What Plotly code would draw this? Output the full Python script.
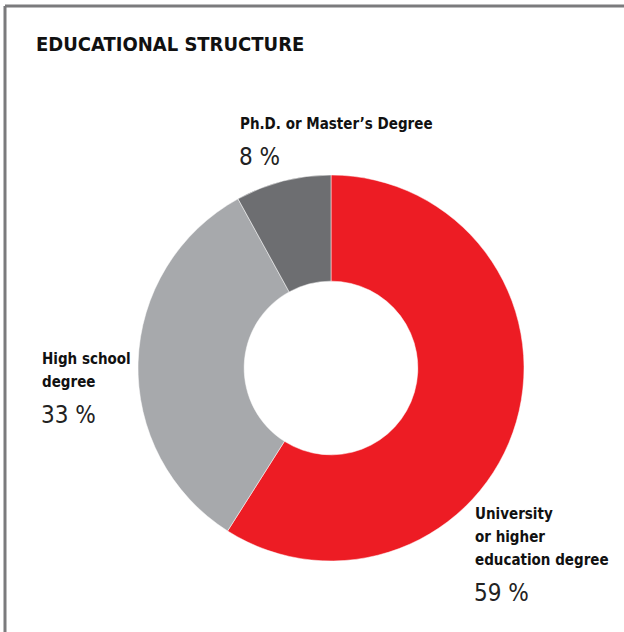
import plotly.graph_objects as go

# Educational structure shares (%)
categories = ["University or higher education degree", "High school degree", "Ph.D. or Master\u2019s Degree"]
shares = [59, 33, 8]
colors = ["#ED1C24", "#A7A9AC", "#6D6E71"]

label_lines = [
    ["University", "or higher", "education degree"],
    ["High school", "degree"],
    ["Ph.D. or Master\u2019s Degree"],
]

W, H = 624, 632


def px(x):
    return x / W


def py(y):
    return 1 - y / H


fig = go.Figure()
fig.add_trace(go.Pie(
    labels=categories,
    values=shares,
    hole=0.45,
    sort=False,
    direction="clockwise",
    rotation=0,
    marker=dict(colors=colors, line=dict(color="white", width=0.5)),
    textinfo="none",
    hoverinfo="label+percent",
    showlegend=False,
    domain=dict(x=[px(138), px(524)], y=[py(561), py(175)]),
))

narrow = "DejaVu Sans Condensed, Liberation Sans Narrow, sans-serif"
# left edge and top of each label block, in pixels
label_pos = [(473, 503), (40, 348), (238, 113)]
line_gap = 23
value_gap = 5

annotations = [dict(
    text="<b>EDUCATIONAL STRUCTURE</b>",
    x=px(34), y=py(30), xref="paper", yref="paper",
    xanchor="left", yanchor="top", showarrow=False,
    font=dict(family=narrow, size=20, color="#111111"),
)]
for lines, val, (lx, ly) in zip(label_lines, shares, label_pos):
    for i, line in enumerate(lines):
        annotations.append(dict(
            text=f"<b>{line}</b>",
            x=px(lx), y=py(ly + i * line_gap), xref="paper", yref="paper",
            xanchor="left", yanchor="top", align="left", showarrow=False,
            font=dict(family=narrow, size=15, color="#111111"),
        ))
    vy = ly + line_gap * len(lines) + value_gap
    annotations.append(dict(
        text=f"{val} %",
        x=px(lx - 1), y=py(vy), xref="paper", yref="paper",
        xanchor="left", yanchor="top", align="left", showarrow=False,
        font=dict(family=narrow, size=24, color="#222222"),
    ))

# frame: only the top and left edges fall inside the page
shapes = [
    dict(type="line", xref="paper", yref="paper", x0=px(5), x1=1.01, y0=py(6), y1=py(6),
         line=dict(color="#7B7B7D", width=3)),
    dict(type="line", xref="paper", yref="paper", x0=px(5), x1=px(5), y0=py(6), y1=-0.01,
         line=dict(color="#7B7B7D", width=3)),
]

fig.update_layout(
    width=W, height=H,
    margin=dict(l=0, r=0, t=0, b=0),
    paper_bgcolor="white", plot_bgcolor="white",
    annotations=annotations, shapes=shapes,
)

fig.write_html("out.html")
